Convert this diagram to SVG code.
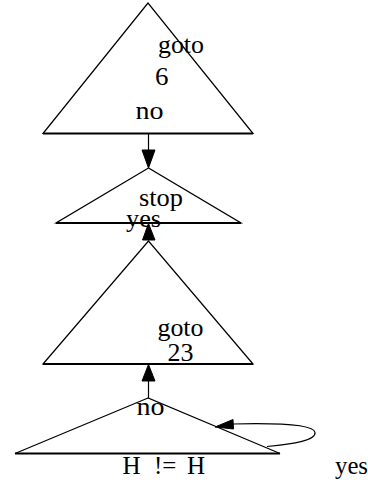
<svg xmlns="http://www.w3.org/2000/svg" width="368" height="488" viewBox="0 0 368 488">
  <style>
    .shape { fill: #ffffff; stroke: #000000; stroke-width: 1.2; stroke-linejoin: miter; }
    .base { stroke: #000000; stroke-width: 1.8; fill: none; }
    .lbl { font-family: "Liberation Serif", "Times New Roman", serif; font-size: 25px; fill: #000000; }
    .edge { stroke: #000000; stroke-width: 1.2; fill: none; }
    .head { fill: #000000; stroke: #000000; stroke-width: 1; }
  </style>
  <rect width="368" height="488" fill="#ffffff"/>

  <!-- decision nodes -->
  <g id="node-goto6">
    <polygon class="shape" points="148,3 43,133.5 253,133.5"/>
    <line class="base" x1="43" y1="133.5" x2="253" y2="133.5"/>
    <text class="lbl" x="158" y="53" textLength="46" lengthAdjust="spacingAndGlyphs">goto</text>
    <text class="lbl" x="155" y="85" textLength="13.5" lengthAdjust="spacingAndGlyphs">6</text>
  </g>

  <g id="node-stop">
    <polygon class="shape" points="148.5,168 56,223 241,223"/>
    <line class="base" x1="56" y1="223" x2="241" y2="223"/>
    <text class="lbl" x="139" y="206" textLength="44" lengthAdjust="spacingAndGlyphs">stop</text>
  </g>

  <g id="node-goto23">
    <polygon class="shape" points="148.5,241 43,364 253,364"/>
    <line class="base" x1="43" y1="364" x2="253" y2="364"/>
    <text class="lbl" x="157.5" y="336" textLength="46" lengthAdjust="spacingAndGlyphs">goto</text>
    <text class="lbl" x="167.5" y="361" textLength="26" lengthAdjust="spacingAndGlyphs">23</text>
  </g>

  <g id="node-cond">
    <polygon class="shape" points="148,398 15,453.5 280,453.5"/>
    <line class="base" x1="15" y1="453.5" x2="280" y2="453.5"/>
    <text class="lbl" y="474"><tspan x="122.5">H</tspan><tspan x="154">!=</tspan><tspan x="187">H</tspan></text>
  </g>

  <!-- connectors -->
  <g id="edges">
    <!-- goto 6 -> stop -->
    <line class="edge" x1="148.5" y1="134" x2="148.5" y2="151"/>
    <polygon class="head" points="142,150 155,150 148.5,168"/>
    <text class="lbl" x="135.5" y="119" textLength="28" lengthAdjust="spacingAndGlyphs">no</text>

    <!-- goto 23 -> stop -->
    <polygon class="head" points="142.5,240 155,240 148.5,223.5"/>
    <text class="lbl" x="126" y="227" textLength="35" lengthAdjust="spacingAndGlyphs">yes</text>

    <!-- condition -> goto 23 -->
    <line class="edge" x1="148.5" y1="380" x2="148.5" y2="398"/>
    <polygon class="head" points="142,381 155,381 148.5,364.5"/>
    <text class="lbl" x="136.5" y="415" textLength="28" lengthAdjust="spacingAndGlyphs">no</text>

    <!-- condition -> condition (loop) -->
    <path class="edge" d="M267,446.5 C295,444 316,440 315,432.5 C314,424.5 275,423 233,424"/>
    <polygon class="head" points="215,427 233,419.5 233.5,429"/>
    <text class="lbl" x="335" y="474" textLength="33" lengthAdjust="spacingAndGlyphs">yes</text>
  </g>
</svg>
